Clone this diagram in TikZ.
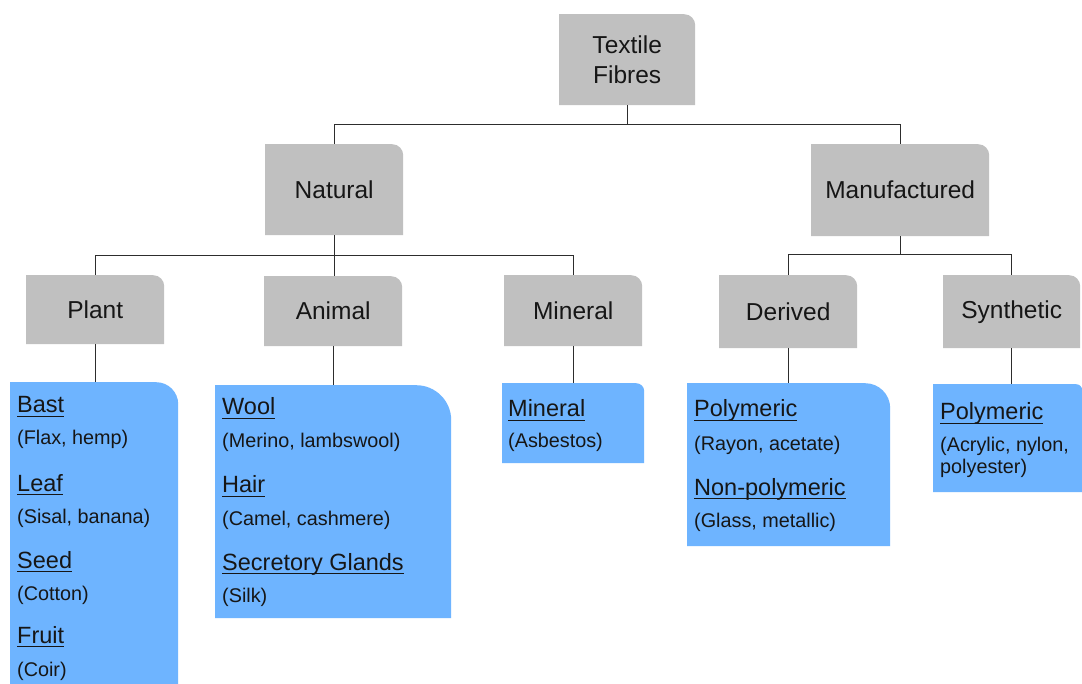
\documentclass[tikz,border=0pt]{standalone}
\usepackage{fontspec}
\setmainfont{Liberation Sans}
\usepackage{tikz}
\usetikzlibrary{positioning}
\definecolor{fibregrey}{RGB}{192,192,192}
\definecolor{fibreblue}{RGB}{110,180,255}
\definecolor{fibreink}{RGB}{22,22,22}
\definecolor{fibreline}{RGB}{45,45,45}
\tikzset{
  tabshape/.style 2 args={rectangle,inner sep=0pt,fill=white,
    path picture={\fill[#1] (path picture bounding box.south west)
      -- (path picture bounding box.north west)
      -- ([xshift=-#2]path picture bounding box.north east)
      arc[start angle=90,end angle=0,radius=#2]
      -- (path picture bounding box.south east) -- cycle;}},
  groupnode/.style={tabshape={fibregrey}{11pt},anchor=north west,align=center,
    text=fibreink,font=\fontsize{24.5pt}{30pt}\selectfont},
  listnode/.style={tabshape={fibreblue}{#1},anchor=north west},
  headtext/.style={anchor=base west,inner sep=0pt,text=fibreink,
    font=\fontsize{23.5pt}{28pt}\selectfont},
  subtext/.style={anchor=base west,inner sep=0pt,text=fibreink,
    font=\fontsize{19.8pt}{24pt}\selectfont},
  treeline/.style={draw=fibreline,line width=1.3pt}
}
\newcommand{\fibreul}[1]{\setbox0=\hbox{#1}\rlap{\rule[-4.4pt]{\wd0}{1.3pt}}\box0}

\begin{document}
\begin{tikzpicture}[x=1pt,y=1pt]
  \fill[white] (0,0) rectangle (1082,-684);
  \useasboundingbox (0,0) rectangle (1082,-684);
  % grey category boxes
  \node[groupnode,minimum width=136pt,minimum height=91pt] (fibres) at (559,-14) {Textile\\Fibres};
  \node[groupnode,minimum width=138pt,minimum height=91pt] (natural) at (265,-144) {Natural};
  \node[groupnode,minimum width=178pt,minimum height=92pt] (manufactured) at (811,-144) {Manufactured};
  \node[groupnode,minimum width=138pt,minimum height=69pt] (plant) at (26,-275) {Plant};
  \node[groupnode,minimum width=138pt,minimum height=70pt] (animal) at (264,-276) {Animal};
  \node[groupnode,minimum width=138pt,minimum height=71pt] (mineral) at (504,-275) {Mineral};
  \node[groupnode,minimum width=138pt,minimum height=73pt] (derived) at (719,-275) {Derived};
  \node[groupnode,minimum width=137pt,minimum height=73pt] (synthetic) at (943,-275) {Synthetic};
  % blue lists
  \node[listnode=22pt,minimum width=168pt,minimum height=302pt] (plantlist) at (10,-382) {};
  \node[listnode=35pt,minimum width=236pt,minimum height=233pt] (animallist) at (215,-385) {};
  \node[listnode=8pt,minimum width=142pt,minimum height=80pt] (minerallist) at (502,-383) {};
  \node[listnode=25pt,minimum width=203pt,minimum height=163pt] (derivedlist) at (687,-383) {};
  \node[listnode=6pt,minimum width=149pt,minimum height=108pt] (syntheticlist) at (933,-384) {};
  % tree lines
  \draw[treeline] (fibres.south) -- ++(0,-19) -| (natural.north);
  \draw[treeline] (fibres.south) -- ++(0,-19) -| (manufactured.north);
  \draw[treeline] (natural.south) -- ++(0,-20) -| (plant.north);
  \draw[treeline] (natural.south) -- (natural.south |- animal.north);
  \draw[treeline] (natural.south) -- ++(0,-20) -| (mineral.north);
  \draw[treeline] (manufactured.south) -- ++(0,-18) -| (derived.north);
  \draw[treeline] (manufactured.south) -- ++(0,-18) -| (synthetic.north);
  \draw[treeline] (plant.south) -- (plant.south |- plantlist.north);
  \draw[treeline] (animal.south) -- (animal.south |- animallist.north);
  \draw[treeline] (mineral.south) -- (mineral.south |- minerallist.north);
  \draw[treeline] (derived.south) -- (derived.south |- derivedlist.north);
  \draw[treeline] (synthetic.south) -- (synthetic.south |- syntheticlist.north);
  % plant
  \node[headtext] (bast) at (17,-413) {\fibreul{Bast}};
  \node[subtext] (flax) at (17,-445) {(Flax, hemp)};
  \node[headtext] (leaf) at (17,-491) {\fibreul{Leaf}};
  \node[subtext] (sisal) at (17,-523) {(Sisal, banana)};
  \node[headtext] (seed) at (17,-568) {\fibreul{Seed}};
  \node[subtext] (cotton) at (17,-600) {(Cotton)};
  \node[headtext] (fruit) at (17,-643) {\fibreul{Fruit}};
  \node[subtext] (coir) at (17,-676) {(Coir)};
  % animal
  \node[headtext] (wool) at (222,-415) {\fibreul{Wool}};
  \node[subtext] (merino) at (222,-447) {(Merino, lambswool)};
  \node[headtext] (hair) at (222,-493) {\fibreul{Hair}};
  \node[subtext] (camel) at (222,-525) {(Camel, cashmere)};
  \node[headtext] (glands) at (222,-570) {\fibreul{Secretory Glands}};
  \node[subtext] (silk) at (222,-602) {(Silk)};
  % mineral
  \node[headtext] (mineralhead) at (508,-417) {\fibreul{Mineral}};
  \node[subtext] (asbestos) at (508,-448) {(Asbestos)};
  % derived
  \node[headtext] (polyderived) at (694,-417) {\fibreul{Polymeric}};
  \node[subtext] (rayon) at (694,-450) {(Rayon, acetate)};
  \node[headtext] (nonpoly) at (694,-495) {\fibreul{Non-polymeric}};
  \node[subtext] (glass) at (694,-527) {(Glass, metallic)};
  % synthetic
  \node[headtext] (polysynth) at (940,-420) {\fibreul{Polymeric}};
  \node[subtext] (acrylic) at (940,-452) {(Acrylic, nylon,};
  \node[subtext] (polyester) at (940,-473) {polyester)};
\end{tikzpicture}
\end{document}
